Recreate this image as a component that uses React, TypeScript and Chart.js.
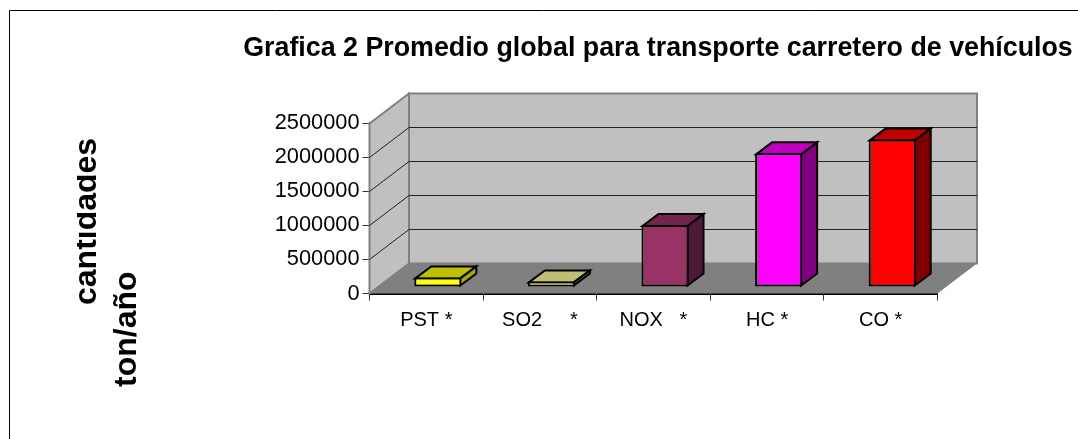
import React, { useEffect, useRef } from "react";
import { Chart, registerables } from "chart.js";

Chart.register(...registerables);

const categories = ["PST *", "SO2     *", "NOX   *", "HC *", "CO *"];
const values = [141000, 82000, 912000, 1965000, 2170000];
const frontColors = ["#ffff00", "#ffff99", "#993366", "#ff00ff", "#ff0000"];
const topColors = ["#bfbf00", "#bfbf73", "#73264d", "#bf00bf", "#bf0000"];
const sideColors = ["#a8a800", "#808050", "#4d1a33", "#800080", "#800000"];
const yTicks = [0, 500000, 1000000, 1500000, 2000000, 2500000];
const titleText = "Grafica 2 Promedio global para transporte carretero de vehículos";
const yTitleLines = ["cantidades", "ton/año"];

const FONT = '"Liberation Sans", Arial, sans-serif';
const WALL_DX = 39.5;
const WALL_DY = 30;
const BAR_DX = 11.5;
const BAR_DY = 6.5;
const DEPTH_DX = 16;
const DEPTH_DY = 12;

function poly(ctx: CanvasRenderingContext2D, pts: number[][], fill: string, stroke?: string, lw = 1) {
  ctx.beginPath();
  pts.forEach((p, i) => (i ? ctx.lineTo(p[0], p[1]) : ctx.moveTo(p[0], p[1])));
  ctx.closePath();
  ctx.fillStyle = fill;
  ctx.fill();
  if (stroke) {
    ctx.strokeStyle = stroke;
    ctx.lineWidth = lw;
    ctx.lineJoin = "miter";
    ctx.stroke();
  }
}

const frame3d = {
  id: "frame3d",
  afterLayout(chart: any) {
    const t = chart.titleBlock;
    if (t) {
      t.left = 243;
      t.right = 1073;
      t.top = 32.5;
      t.bottom = 64.5;
    }
  },
  beforeDraw(chart: any) {
    const { ctx } = chart;
    ctx.save();
    ctx.strokeStyle = "#000";
    ctx.lineWidth = 1;
    ctx.beginPath();
    ctx.moveTo(9.5, 439);
    ctx.lineTo(9.5, 10.5);
    ctx.lineTo(1078, 10.5);
    ctx.stroke();
    ctx.restore();

    ctx.save();
    ctx.beginPath();
    ctx.rect(77, 0, 400, 439);
    ctx.clip();
    ctx.fillStyle = "#000";
    ctx.font = `bold 32px ${FONT}`;
    ctx.textBaseline = "alphabetic";
    ctx.textAlign = "left";
    ctx.save();
    ctx.translate(95.5, 305);
    ctx.rotate(-Math.PI / 2);
    ctx.fillText(yTitleLines[0], 0, 0);
    ctx.restore();
    ctx.save();
    ctx.translate(135.5, 387);
    ctx.rotate(-Math.PI / 2);
    ctx.fillText(yTitleLines[1], 0, 0);
    ctx.restore();
    ctx.restore();
  },
  beforeDatasetsDraw(chart: any) {
    const { ctx, chartArea: a, scales } = chart;
    const l = a.left, r = a.right, t = a.top, b = a.bottom;
    const dx = WALL_DX, dy = WALL_DY;
    ctx.save();
    poly(ctx, [[l, t], [l + dx, t - dy], [l + dx, b - dy], [l, b]], "#c0c0c0", "#808080", 2);
    poly(ctx, [[l + dx, t - dy], [r + dx, t - dy], [r + dx, b - dy], [l + dx, b - dy]], "#c0c0c0", "#808080", 2);
    poly(ctx, [[l, b], [l + dx, b - dy], [r + dx, b - dy], [r, b]], "#808080");
    ctx.strokeStyle = "#222";
    ctx.lineWidth = 1;
    yTicks.slice(1, -1).forEach((v) => {
      const y = Math.round(scales.y.getPixelForValue(v)) + 0.5;
      ctx.beginPath();
      ctx.moveTo(l, y);
      ctx.lineTo(l + dx, y - dy);
      ctx.lineTo(r + dx, y - dy);
      ctx.stroke();
    });
    ctx.restore();
  },
  beforeDatasetDraw(chart: any) {
    const { ctx } = chart;
    ctx.save();
    ctx.translate(BAR_DX, -BAR_DY);
    chart.getDatasetMeta(0).data.forEach((bar: any, i: number) => {
      const x0 = bar.x - bar.width / 2 + 1;
      const x1 = bar.x + bar.width / 2 - 1;
      const y0 = bar.y + 1;
      const yb = bar.base - 1;
      poly(ctx, [[x0, y0], [x0 + DEPTH_DX, y0 - DEPTH_DY], [x1 + DEPTH_DX, y0 - DEPTH_DY], [x1, y0]], topColors[i], "#000", 2);
      poly(ctx, [[x1, y0], [x1 + DEPTH_DX, y0 - DEPTH_DY], [x1 + DEPTH_DX, yb - DEPTH_DY], [x1, yb]], sideColors[i], "#000", 2);
    });
  },
  afterDatasetDraw(chart: any) {
    chart.ctx.restore();
  },
};

export default function App() {
  const ref = useRef<HTMLCanvasElement>(null);
  useEffect(() => {
    const chart = new Chart(ref.current!, {
      type: "bar",
      data: {
        labels: categories,
        datasets: [
          {
            data: values,
            backgroundColor: frontColors,
            borderColor: "#000",
            borderWidth: 2,
            borderSkipped: false,
            categoryPercentage: 1,
            barPercentage: 0.414,
            clip: false,
          } as any,
        ],
      },
      options: {
        responsive: false,
        animation: false,
        layout: { padding: { left: 0, right: 140.5, top: 91.3, bottom: 105.5 } },
        plugins: {
          legend: { display: false },
          tooltip: { enabled: false },
          title: {
            display: true,
            text: titleText,
            color: "#000",
            font: { family: FONT, size: 26.8, weight: "bold" },
            padding: 0,
          },
        },
        scales: {
          x: {
            afterFit: (s: any) => { s.height = 40; },
            border: { color: "#000", width: 2 },
            grid: { drawOnChartArea: false, drawTicks: true, tickLength: 7, color: "#333", offset: true },
            ticks: { color: "#000", font: { family: FONT, size: 20 }, padding: 8, maxRotation: 0, autoSkip: false },
          },
          y: {
            min: 0,
            max: 2500000,
            afterFit: (s: any) => { s.width = 369.5; },
            afterBuildTicks: (s: any) => { s.ticks = yTicks.map((value) => ({ value })); },
            border: { color: "#000", width: 2 },
            grid: { drawOnChartArea: false, drawTicks: true, tickLength: 7, color: "#333" },
            ticks: { color: "#000", font: { family: FONT, size: 21.8 }, padding: 3, callback: (v: any) => String(v) },
          },
        },
      } as any,
      plugins: [frame3d],
    });
    return () => chart.destroy();
  }, []);
  return (
    <canvas
      ref={ref}
      width={1078}
      height={439}
      style={{ position: "absolute", left: 0, top: 0, display: "block" }}
    />
  );
}
